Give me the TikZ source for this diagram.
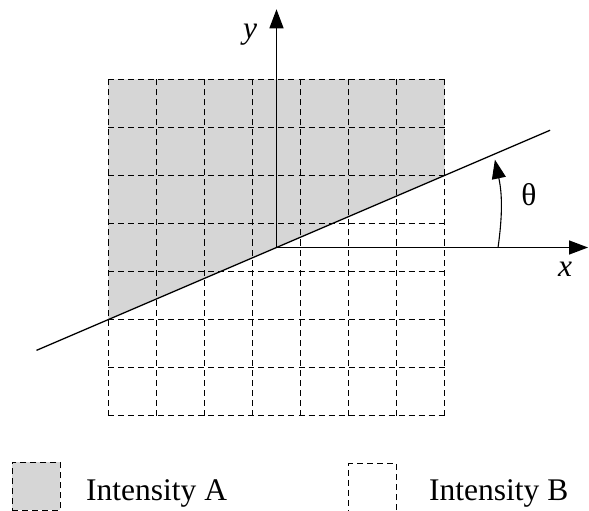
\documentclass[tikz,border=0pt]{standalone}
\usepackage{fontspec}
\setmainfont{Liberation Serif}
\usepackage{xcolor}
\usepackage{tikz}
\usetikzlibrary{arrows.meta}

\definecolor{areagray}{RGB}{214,214,214}

\begin{document}
\begin{tikzpicture}[
  x=48pt, y=48pt,
  font=\fontsize{31.5}{36}\selectfont, >={Triangle[length=19pt, width=14pt]},
  gridline/.style={dashed, dash pattern=on 6pt off 4pt, line width=1pt},
  axis/.style={->, line width=1.3pt},
  keybox/.style={gridline, draw, minimum width=48pt, minimum height=48pt, inner sep=0pt},
  lbl/.style={inner sep=0pt},
]
\useasboundingbox (-5.760,-5.469) rectangle (6.510,5.156);
% shaded half and grid
\fill[areagray] (-3.5,3.5) -- (3.5,3.5) -- (3.5,1.5) -- (-3.5,-1.5) -- cycle;
\draw[gridline, step={(1,1)}, shift={(-0.5,-0.5)}] (-3,-3) grid (4,4);
% axes and line
\coordinate (O) at (0,0);
\coordinate (xend) at (6.49,0);
\coordinate (yend) at (0,4.963);
\coordinate (lineL) at (-5,-2.143);
\coordinate (lineR) at (5.7,2.443);
\draw[axis] (O) -- (xend);
\draw[axis] (O) -- (yend);
\draw[line width=1.3pt] (lineL) -- (lineR);
\node[lbl] (xlabel) at (6.01,-0.45) {\textit{x}};
\node[lbl] (ylabel) at (-0.552,4.43) {\textit{y}};
% angle
\coordinate (arcS) at (4.615,0);
\coordinate (arcE) at (4.55,1.83);
\draw[->, line width=1.1pt] (arcS) to[bend right=10] (arcE);
\node[lbl] (thetalabel) at (5.26,1.094) {θ};
% legend
\node[keybox, fill=areagray] (keyA) at (-5.0,-4.975) {};
\node[lbl, anchor=base west] (textA) at (-3.969,-5.26) {Intensity A};
\node[keybox] (keyB) at (2.0,-5.01) {};
\node[lbl, anchor=base west] (textB) at (3.177,-5.26) {Intensity B};
\end{tikzpicture}
\end{document}
